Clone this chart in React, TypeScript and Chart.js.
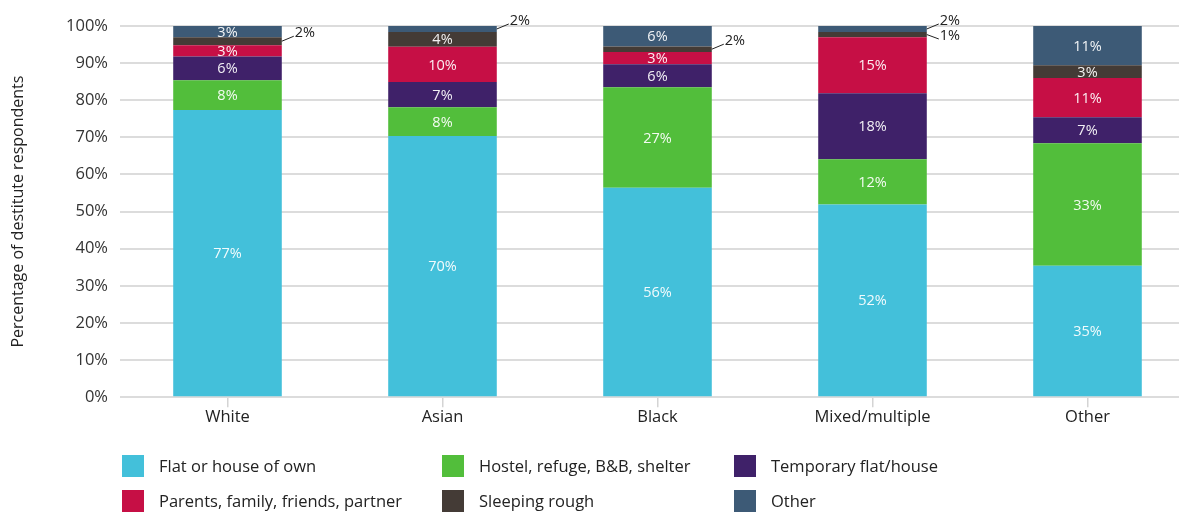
import React, { useEffect, useRef } from "react";
import { Chart, registerables } from "chart.js";

Chart.register(...registerables);

const categories = ["White", "Asian", "Black", "Mixed/multiple", "Other"];
const yTickValues = [0, 10, 20, 30, 40, 50, 60, 70, 80, 90, 100];

const flatOrHouseOfOwn = [77.4, 70.4, 56.4, 51.9, 35.4];
const hostelRefugeShelter = [8.0, 7.7, 27.1, 12.2, 33.0];
const temporaryFlatHouse = [6.4, 6.8, 6.2, 17.8, 7.0];
const parentsFamilyFriends = [3.0, 9.5, 3.3, 15.1, 10.6];
const sleepingRough = [2.2, 4.0, 1.5, 1.4, 3.4];
const otherAccommodation = [3.0, 1.6, 5.5, 1.6, 10.6];

const seriesNames = [
  "Flat or house of own",
  "Hostel, refuge, B&B, shelter",
  "Temporary flat/house",
  "Parents, family, friends, partner",
  "Sleeping rough",
  "Other",
];
const seriesValues = [
  flatOrHouseOfOwn,
  hostelRefugeShelter,
  temporaryFlatHouse,
  parentsFamilyFriends,
  sleepingRough,
  otherAccommodation,
];
const seriesColors = ["#43C0DA", "#52BE3B", "#3F2169", "#C60F45", "#443B36", "#3D5A76"];

const FONT = "'Open Sans', Lato, sans-serif";

const segmentLabels = {
  id: "segmentLabels",
  afterDatasetsDraw(chart: any) {
    const ctx = chart.ctx;
    ctx.save();
    ctx.font = `14.5px ${FONT}`;
    const n = chart.data.labels.length;
    for (let i = 0; i < n; i++) {
      const outside: any[] = [];
      chart.data.datasets.forEach((ds: any, di: number) => {
        const meta = chart.getDatasetMeta(di);
        const el = meta.data[i];
        if (!el) return;
        const v = ds.data[i];
        const txt = Math.round(v) + "%";
        const p = el.getProps(["x", "y", "base", "width"], true);
        const cy = (p.y + p.base) / 2;
        if (v >= 2.5) {
          ctx.fillStyle = "rgba(255,255,255,0.93)";
          ctx.textAlign = "center";
          ctx.textBaseline = "middle";
          ctx.fillText(txt, p.x, cy + 1);
        } else {
          outside.push({ cy, right: p.x + p.width / 2, txt });
        }
      });
      outside.sort((a, b) => a.cy - b.cy);
      let prev = -Infinity;
      outside.forEach((o, k) => {
        const ly = k === 0 ? o.cy - 8 : Math.max(prev + 15, o.cy + 1);
        prev = ly;
        ctx.strokeStyle = "#222";
        ctx.lineWidth = 1;
        ctx.beginPath();
        ctx.moveTo(o.right, o.cy);
        ctx.lineTo(o.right + 12, ly + 3);
        ctx.stroke();
        ctx.fillStyle = "#222";
        ctx.textAlign = "left";
        ctx.textBaseline = "middle";
        ctx.fillText(o.txt, o.right + 13, ly);
      });
    }
    ctx.restore();
  },
};

export default function App() {
  const canvasRef = useRef<HTMLCanvasElement | null>(null);

  useEffect(() => {
    if (!canvasRef.current) return;
    const chart = new Chart(canvasRef.current, {
      type: "bar",
      data: {
        labels: categories,
        datasets: seriesNames.map((name, idx) => ({
          label: name,
          data: seriesValues[idx],
          backgroundColor: seriesColors[idx],
          borderWidth: 0,
          barPercentage: 0.505,
          categoryPercentage: 1,
        })),
      },
      options: {
        responsive: false,
        animation: false,
        layout: { padding: { top: 26, right: 0, bottom: 85, left: 0 } },
        plugins: {
          legend: { display: false },
          tooltip: { enabled: false },
        },
        scales: {
          x: {
            stacked: true,
            grid: {
              offset: false,
              drawOnChartArea: false,
              drawTicks: true,
              tickLength: 10,
              color: "#d4d4d4",
              lineWidth: 1.5,
            },
            border: { display: false },
            ticks: {
              color: "#222",
              font: { family: FONT, size: 16.5 },
              padding: 0,
            },
          },
          y: {
            stacked: true,
            min: 0,
            max: 100,
            afterFit: (scale: any) => {
              scale.width = 120;
            },
            afterBuildTicks: (scale: any) => {
              scale.ticks = yTickValues.map((v) => ({ value: v }));
            },
            grid: {
              drawTicks: false,
              color: "#dcdcdc",
              lineWidth: 2,
            },
            border: { display: false },
            ticks: {
              color: "#333",
              font: { family: FONT, size: 16.5 },
              padding: 12,
              callback: (v: any) => v + "%",
            },
            title: {
              display: true,
              text: "Percentage of destitute respondents",
              color: "#222",
              font: { family: FONT, size: 16 },
              padding: { top: 9, bottom: 0 },
            },
          },
        },
      },
      plugins: [segmentLabels],
    });
    return () => chart.destroy();
  }, []);

  const colWidths = [320, 292, 300];

  return (
    <div
      style={{
        position: "fixed",
        left: 0,
        top: 0,
        width: 1179,
        height: 512,
        overflow: "hidden",
        background: "#fff",
      }}
    >
      <canvas
        ref={canvasRef}
        width={1195}
        height={512}
        style={{ position: "absolute", left: 0, top: 0, display: "block" }}
      />
      <div
        style={{
          position: "absolute",
          left: 122,
          top: 448,
          display: "grid",
          gridTemplateColumns: colWidths.map((w) => w + "px").join(" "),
          gridAutoRows: "35px",
          alignItems: "center",
          fontFamily: FONT,
          fontSize: 16.5,
          color: "#222",
        }}
      >
        {seriesNames.map((name, idx) => (
          <div key={name} style={{ display: "flex", alignItems: "center" }}>
            <span
              style={{
                display: "inline-block",
                width: 22,
                height: 22,
                background: seriesColors[idx],
                marginRight: 15,
                flex: "none",
              }}
            />
            <span style={{ whiteSpace: "nowrap" }}>{name}</span>
          </div>
        ))}
      </div>
    </div>
  );
}
